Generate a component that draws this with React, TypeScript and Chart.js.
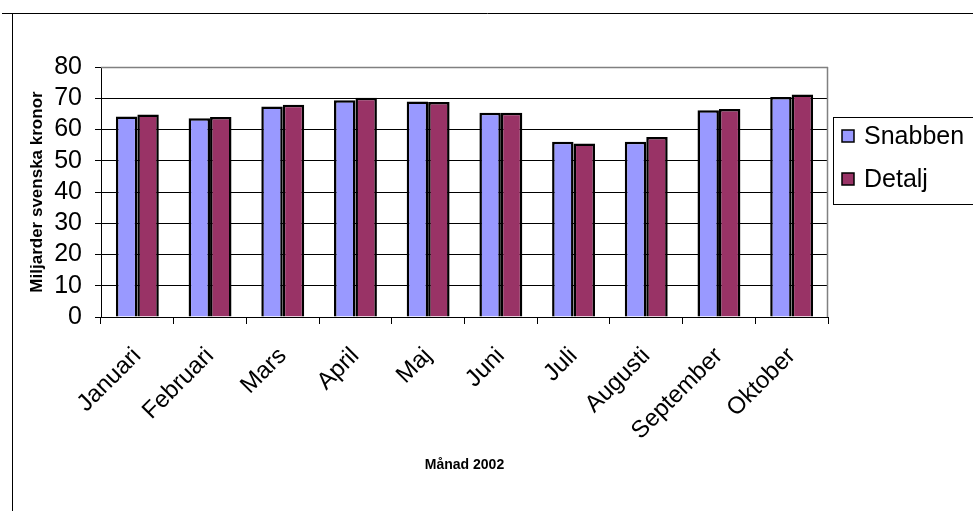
import { useEffect, useRef } from "react";
import { Chart, registerables } from "chart.js";

Chart.register(...registerables);

// Monthly turnover, billions of SEK
const months = [
  "Januari",
  "Februari",
  "Mars",
  "April",
  "Maj",
  "Juni",
  "Juli",
  "Augusti",
  "September",
  "Oktober",
];
const snabben = [64.2, 63.6, 67.4, 69.4, 69.0, 65.4, 56.1, 56.1, 66.2, 70.4];
const detalj = [64.8, 64.0, 67.9, 70.2, 68.8, 65.4, 55.5, 57.6, 66.6, 71.2];

const seriesNames = ["Snabben", "Detalj"];
const seriesColors = ["#9999FF", "#993366"];

const yMin = 0;
const yMax = 80;
const yStep = 10;

const xTitle = "Månad 2002";
const yTitle = "Miljarder svenska kronor";

const FONT = 'Arial, "Liberation Sans", sans-serif';

// Outer frame, white background and the grey plot border
const framePlugin = {
  id: "frame",
  beforeDraw(chart: any) {
    const { ctx, width, height } = chart;
    ctx.save();
    ctx.fillStyle = "#ffffff";
    ctx.fillRect(0, 0, width, height);
    ctx.strokeStyle = "#000000";
    ctx.lineWidth = 1;
    ctx.beginPath();
    ctx.moveTo(2, 13.5);
    ctx.lineTo(width, 13.5);
    ctx.moveTo(12.5, 13);
    ctx.lineTo(12.5, height);
    ctx.stroke();
    ctx.restore();
  },
  beforeDatasetsDraw(chart: any) {
    const { ctx, chartArea } = chart;
    ctx.save();
    ctx.strokeStyle = "#808080";
    ctx.lineWidth = 1.5;
    ctx.beginPath();
    const x = Math.round(chartArea.right) - 0.5;
    ctx.moveTo(x, chartArea.top);
    ctx.lineTo(x, chartArea.bottom);
    ctx.moveTo(chartArea.left, chartArea.top + 0.5);
    ctx.lineTo(chartArea.right, chartArea.top + 0.5);
    ctx.stroke();
    ctx.restore();
  },
};

// Boxed legend at the right of the plot
const boxLegendPlugin = {
  id: "boxLegend",
  afterDraw(chart: any) {
    const { ctx, chartArea, width } = chart;
    const left = Math.round(chartArea.right) + 5;
    const top = 117;
    const rowGap = 43;
    ctx.save();
    ctx.strokeStyle = "#000000";
    ctx.lineWidth = 1;
    ctx.strokeRect(left + 0.5, top + 0.5, width - left + 10, 87);
    chart.data.datasets.forEach((ds: any, i: number) => {
      const cy = top + 19 + i * rowGap;
      ctx.fillStyle = ds.backgroundColor;
      ctx.fillRect(left + 9, cy - 6, 12, 12);
      ctx.strokeStyle = "#000000";
      ctx.lineWidth = 1.5;
      ctx.strokeRect(left + 9, cy - 6, 12, 12);
      ctx.fillStyle = "#000000";
      ctx.font = `25px ${FONT}`;
      ctx.textAlign = "left";
      ctx.textBaseline = "middle";
      ctx.fillText(ds.label, left + 31, cy + 1);
    });
    ctx.restore();
  },
};

export default function App() {
  const canvasRef = useRef<HTMLCanvasElement | null>(null);

  useEffect(() => {
    document.body.style.margin = "0";
    const canvas = canvasRef.current;
    if (!canvas) return;
    const chart = new Chart(canvas, {
      type: "bar",
      data: {
        labels: months,
        datasets: [
          {
            label: seriesNames[0],
            data: snabben,
            backgroundColor: seriesColors[0],
            borderColor: "#000000",
            borderWidth: 2.5,
          },
          {
            label: seriesNames[1],
            data: detalj,
            backgroundColor: seriesColors[1],
            borderColor: "#000000",
            borderWidth: 2.5,
          },
        ],
      },
      options: {
        animation: false,
        responsive: false,
        devicePixelRatio: 1,
        layout: { padding: { top: 67, right: 145, left: 0, bottom: 0 } },
        datasets: {
          bar: { categoryPercentage: 0.59, barPercentage: 1 },
        },
        plugins: {
          legend: { display: false },
          tooltip: { enabled: false },
        },
        scales: {
          x: {
            offset: true,
            grid: {
              offset: true,
              drawOnChartArea: false,
              drawTicks: true,
              tickLength: 7,
              color: "#000000",
            },
            border: { color: "#000000", width: 1 },
            ticks: {
              autoSkip: false,
              maxRotation: 45,
              minRotation: 45,
              padding: 18,
              color: "#000000",
              font: { family: FONT, size: 24 },
            },
            title: {
              display: true,
              text: xTitle,
              color: "#000000",
              font: { family: FONT, size: 14, weight: "bold" },
              padding: { top: 0, bottom: 37 },
            },
            afterFit(scale: any) {
              scale.height = 194;
            },
          },
          y: {
            min: yMin,
            max: yMax,
            grid: {
              color: (ctx: any) =>
                ctx.tick && ctx.tick.value === yMax ? "#808080" : "#000000",
              tickColor: "#000000",
              tickLength: 6,
              drawTicks: true,
            },
            border: { color: "#000000", width: 1 },
            ticks: {
              stepSize: yStep,
              autoSkip: false,
              padding: 13,
              color: "#000000",
              font: { family: FONT, size: 25 },
            },
            title: {
              display: true,
              text: yTitle,
              color: "#000000",
              font: { family: FONT, size: 17, weight: "bold" },
              padding: { top: 27, bottom: 0 },
            },
            afterFit(scale: any) {
              scale.width = 101;
            },
          },
        },
      },
      plugins: [framePlugin, boxLegendPlugin],
    });
    return () => chart.destroy();
  }, []);

  return (
    <div style={{ width: 973, height: 511 }}>
      <canvas ref={canvasRef} width={973} height={511} />
    </div>
  );
}
